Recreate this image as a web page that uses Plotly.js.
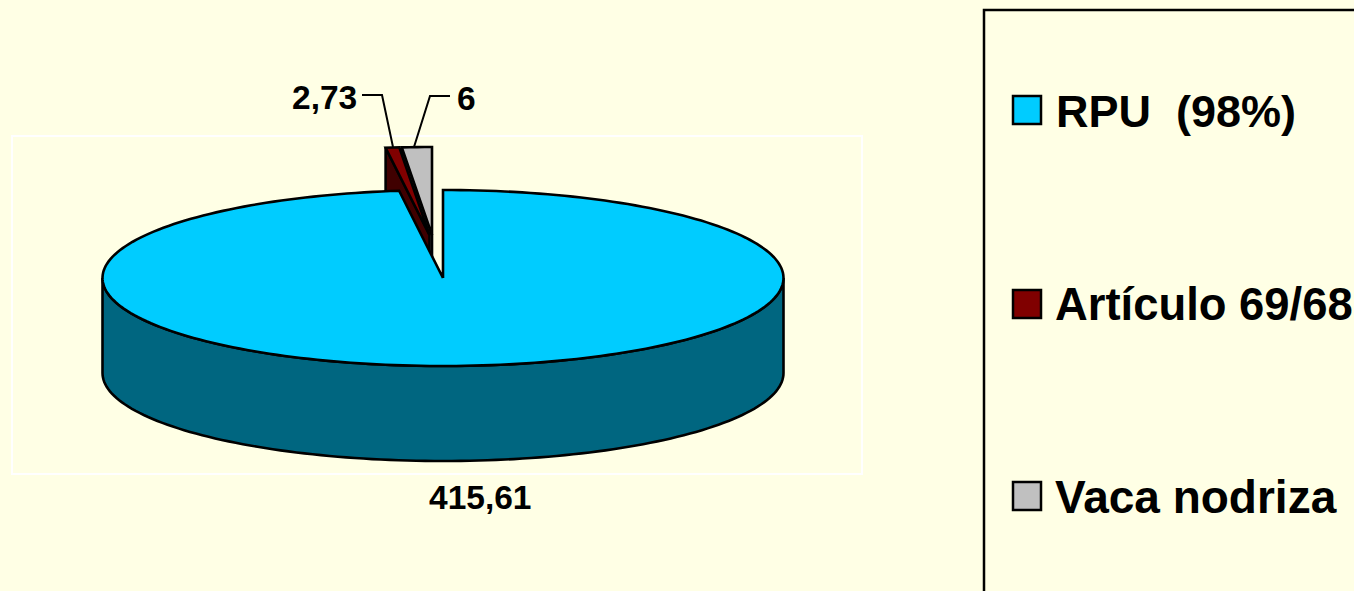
<!DOCTYPE html>
<html>
<head>
<meta charset="utf-8">
<script src="https://cdn.plot.ly/plotly-3.0.1.min.js"></script>
<style>html,body{margin:0;padding:0;background:#FFFFE5;overflow:hidden}</style>
</head>
<body>
<div id="chart" style="width:1354px;height:591px"></div>
<script>
// Data
var categories = ['RPU\u00A0\u00A0(98%)', 'Artículo 69/68', 'Vaca nodriza'];
var values = [415.61, 2.73, 6];
var dataLabels = ['415,61', '2,73', '6'];
var topColors = ['#00CCFF', '#800000', '#C0C0C0'];
var wallColors = ['#006680', '#400000', '#808080'];

// Pie projection
var cx = 443, cy = 278, rx = 340.5, ry = 88, depth = 95;
var offsets = [[0, 0], [-13.5, -43], [-11, -43]];
var total = values.reduce(function (a, b) { return a + b; }, 0);

function pt(deg, o, dz) {
  var r = deg * Math.PI / 180;
  return [cx + o[0] + rx * Math.sin(r), cy + o[1] - ry * Math.cos(r) + (dz || 0)];
}
function arc(a0, a1, o, dz) {
  var out = [], n = Math.max(2, Math.ceil(Math.abs(a1 - a0) / 1.5));
  for (var i = 0; i <= n; i++) out.push(pt(a0 + (a1 - a0) * i / n, o, dz));
  return out;
}
function poly(points, fill, name) {
  return {
    type: 'scatter', mode: 'lines', fill: 'toself', fillcolor: fill,
    x: points.map(function (p) { return p[0]; }).concat([points[0][0]]),
    y: points.map(function (p) { return p[1]; }).concat([points[0][1]]),
    line: { color: '#000000', width: 2.6, simplify: false },
    hoverinfo: 'skip', showlegend: false, name: name || ''
  };
}
function center(o, dz) { return [cx + o[0], cy + o[1] + (dz || 0)]; }

var angles = [], acc = 0;
values.forEach(function (v) { var a = v / total * 360; angles.push([acc, acc + a]); acc += a; });

function slice(i) {
  var o = offsets[i], a = angles[i];
  var tr = [];
  // cut face on the leading (left) side of the exploded wedges
  var outer = pt(a[0], o), outerD = pt(a[0], o, depth);
  tr.push(poly([outer, center(o), center(o, depth), outerD], wallColors[i], categories[i] + ' wall'));
  tr.push(poly([center(o)].concat(arc(a[0], a[1], o)), topColors[i], categories[i]));
  return tr;
}

var traces = [];
traces = traces.concat(slice(2), slice(1));

// Main slice: outer rim then top
var o0 = offsets[0];
var rimTop = arc(90, 270, o0);
var rimBottom = arc(270, 90, o0, depth);
traces.push(poly(rimTop.concat(rimBottom), wallColors[0], categories[0] + ' wall'));
traces.push(poly([center(o0)].concat(arc(angles[0][0], angles[0][1], o0)), topColors[0], categories[0]));

// Leader lines
function leader(xs, ys) {
  return { type: 'scatter', mode: 'lines', x: xs, y: ys, hoverinfo: 'skip', showlegend: false,
           line: { color: '#000000', width: 2 } };
}
traces.push(leader([362, 382, 393], [95, 95, 147]));
traces.push(leader([450, 430, 414], [96, 96, 147]));

// Text helpers
var font = 'Liberation Sans, Arial, sans-serif';
var annotations = [
  { x: 480, y: 497, text: dataLabels[0], size: 33.5, xanchor: 'center' },
  { x: 359, y: 97, text: dataLabels[1], size: 33.5, xanchor: 'right' },
  { x: 455, y: 98, text: dataLabels[2], size: 33.5, xanchor: 'left' }
];
var swatchY = [110, 304, 496];
var legendTextY = [111, 304.5, 497];
var legendTextX = [1053.5, 1053, 1052.5];
var legendSizes = [45, 45.4, 46];
categories.forEach(function (c, i) {
  annotations.push({ x: legendTextX[i], y: legendTextY[i], text: c, size: legendSizes[i], xanchor: 'left' });
});
annotations = annotations.map(function (a) {
  return { x: a.x, y: a.y, xref: 'x', yref: 'y', text: '<b>' + a.text + '</b>', showarrow: false,
           xanchor: a.xanchor, yanchor: 'middle', font: { family: font, size: a.size, color: '#000' } };
});

var shapes = [
  { type: 'rect', xref: 'x', yref: 'y', x0: 12, x1: 862, y0: 136, y1: 474, layer: 'below',
    line: { color: '#FFFFFF', width: 2 } },
  { type: 'path', xref: 'x', yref: 'y', path: 'M984,600 L984,10 L1360,10', line: { color: '#000', width: 2.5 } }
];
swatchY.forEach(function (y, i) {
  shapes.push({ type: 'rect', xref: 'x', yref: 'y', x0: 1013, x1: 1041, y0: y - 14, y1: y + 14,
                fillcolor: topColors[i], line: { color: '#000', width: 2.5 } });
});

Plotly.newPlot('chart', traces, {
  width: 1354, height: 591,
  margin: { l: 0, r: 0, t: 0, b: 0 },
  paper_bgcolor: '#FFFFE5', plot_bgcolor: '#FFFFE5',
  showlegend: false,
  xaxis: { range: [0, 1354], visible: false, fixedrange: true },
  yaxis: { range: [591, 0], visible: false, fixedrange: true },
  annotations: annotations, shapes: shapes
}, { displayModeBar: false, staticPlot: true });
</script>
</body>
</html>
